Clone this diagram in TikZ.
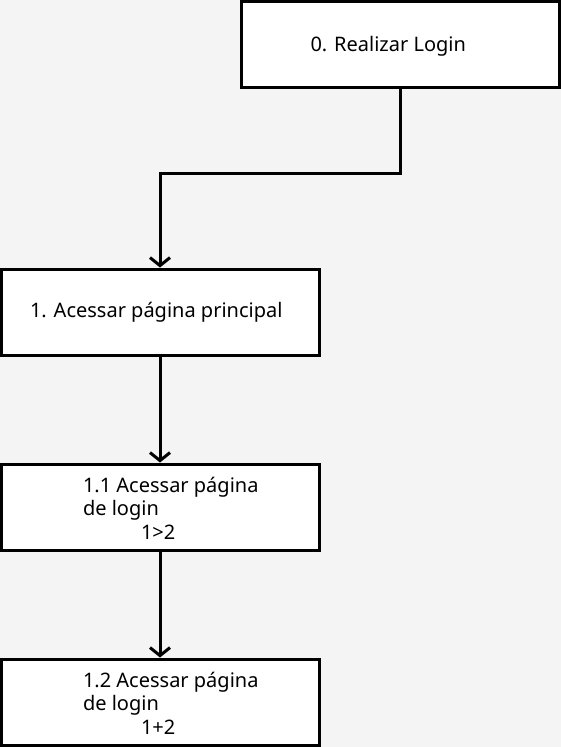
\documentclass[tikz,border=0pt]{standalone}
\usepackage{fontspec}
\setmainfont{Noto Sans}
\usetikzlibrary{positioning, arrows.meta}

\definecolor{bggray}{HTML}{F4F4F4}

\begin{document}
\begin{tikzpicture}[x=1pt, y=-1pt, node distance=106pt,
   box/.style={draw, fill=white, line width=3pt, minimum width=318pt,
      minimum height=86pt, inner sep=0pt},
   txt/.style={font=\fontsize{20}{23.5}\selectfont, inner sep=0pt, align=left},
   >={Straight Barb[length=8pt, width=20pt]}, line width=3pt]

   \fill[bggray] (0,0) rectangle (561,747);
   \useasboundingbox (0,0) rectangle (561,747);

   \node[box] (q0) at (400.5,44.5) {};
   \node[box] (q1) at (160,312) {};
   \node[box] (q11) [below=of q1] {};
   \node[box] (q12) [below=of q11] {};

   \node[txt, right=69pt of q0.west, yshift=-2pt] (l0) {0. Realizar Login};
   \node[txt, right=29pt of q1.west] (l1) {1. Acessar página principal};
   \node[txt, right=82pt of q11.west, yshift=-1pt] (l11)
      {1.1 Acessar página\\de login\\\hspace*{58pt}1>2};
   \node[txt, right=82pt of q12.west, yshift=-1pt] (l12)
      {1.2 Acessar página\\de login\\\hspace*{58pt}1+2};

   \coordinate (turn) at (160,173);

   \draw[->] (q0.south) |- (turn) -- (q1.north);
   \draw[->] (q1) -- (q11);
   \draw[->] (q11) -- (q12);
\end{tikzpicture}
\end{document}
